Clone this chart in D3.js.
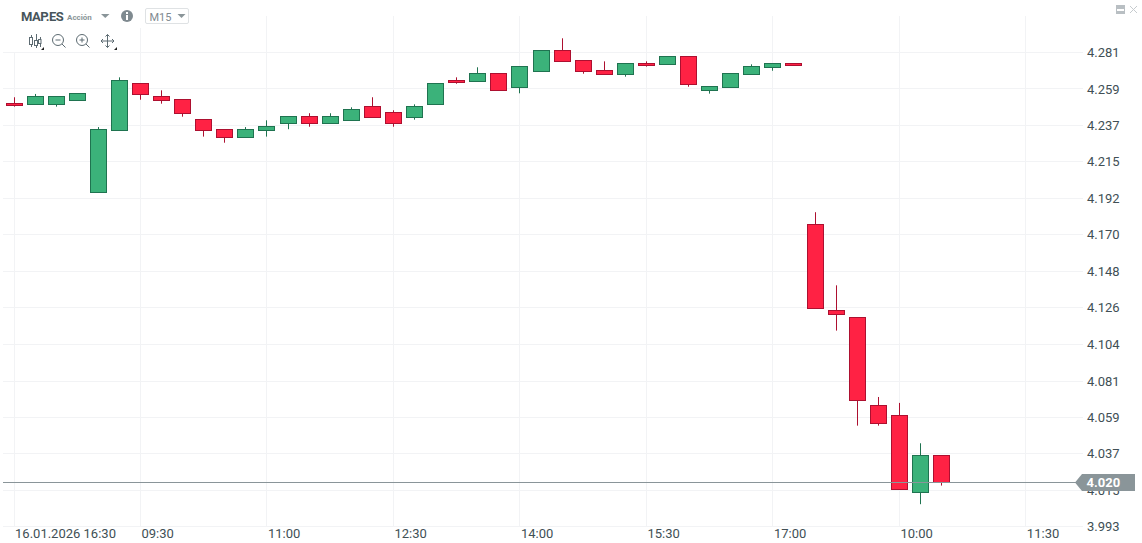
<!DOCTYPE html>
<html lang="es">
<head>
<meta charset="UTF-8">
<title>MAP.ES M15</title>
<script src="https://d3js.org/d3.v7.min.js"></script>
<style>
  html, body { margin: 0; padding: 0; background: #fff; overflow: hidden; }
  text { font-family: Roboto, sans-serif; }
</style>
</head>
<body>
<div id="chart"></div>
<script>
// candle values, one entry per 15 minute bar
var opens  = [4.2500,4.2494,4.2494,4.2516,4.1960,4.2336,4.2622,4.2543,4.2525,4.2403,4.2343,4.2294,4.2336,4.2379,4.2421,4.2379,4.2397,4.2482,4.2446,4.2413,4.2494,4.2640,4.2634,4.2683,4.2598,4.2695,4.2822,4.2761,4.2701,4.2676,4.2743,4.2737,4.2786,4.2579,4.2598,4.2676,4.2719,4.2743,4.1766,4.1244,4.1201,4.0667,4.0606,4.0139,4.0363];
var highs  = [4.2537,4.2557,4.2543,4.2561,4.2356,4.2658,4.2622,4.2579,4.2525,4.2403,4.2343,4.2356,4.2397,4.2421,4.2440,4.2440,4.2476,4.2537,4.2458,4.2494,4.2622,4.2658,4.2719,4.2683,4.2725,4.2822,4.2895,4.2761,4.2755,4.2743,4.2755,4.2786,4.2786,4.2604,4.2683,4.2737,4.2743,4.2743,4.1839,4.1395,4.1201,4.0717,4.0681,4.0436,4.0363];
var lows   = [4.2480,4.2494,4.2480,4.2516,4.1960,4.2336,4.2522,4.2498,4.2419,4.2298,4.2261,4.2294,4.2298,4.2343,4.2358,4.2379,4.2397,4.2413,4.2358,4.2401,4.2494,4.2619,4.2634,4.2579,4.2561,4.2695,4.2755,4.2680,4.2676,4.2662,4.2723,4.2737,4.2601,4.2559,4.2598,4.2676,4.2698,4.2731,4.1256,4.1120,4.0543,4.0543,4.0157,4.0066,4.0179];
var closes = [4.2488,4.2543,4.2543,4.2561,4.2343,4.2640,4.2555,4.2519,4.2440,4.2336,4.2294,4.2343,4.2361,4.2421,4.2379,4.2421,4.2464,4.2413,4.2379,4.2482,4.2622,4.2628,4.2683,4.2579,4.2725,4.2822,4.2755,4.2695,4.2676,4.2743,4.2731,4.2786,4.2616,4.2604,4.2683,4.2725,4.2743,4.2731,4.1256,4.1219,4.0697,4.0557,4.0157,4.0363,4.0200];

var priceTicks = [4.2810,4.2588,4.2367,4.2145,4.1924,4.1702,4.1480,4.1259,4.1037,4.0814,4.0594,4.0372,4.0151,3.9930];
var timeTickBars = [0,6,12,18,24,30,36,42,48];
var timeTickLabels = ["16.01.2026 16:30","09:30","11:00","12:30","14:00","15:30","17:00","10:00","11:30"];
var lastPrice = 4.020;

var width = 1142, height = 543;
var gridColor = "#f2f3f5", textColor = "#414f55", iconColor = "#5d6b72", tagColor = "#8a9599";
var upFill = "#3bb27a", upStroke = "#1f7350", downFill = "#ff2244", downStroke = "#ad1030";

var svg = d3.select("#chart").append("svg")
    .attr("width", width)
    .attr("height", height)
    .style("display", "block");

var x = d3.scaleLinear().domain([0, 48]).range([14.03, 1025.87]);
var y = d3.scaleLinear().domain([3.993, 4.281]).range([526.6, 52.3]);

function crisp(v) { return Math.floor(v) + 0.5; }

// grid
svg.append("g").selectAll("line").data(priceTicks).enter().append("line")
    .attr("x1", 3).attr("x2", 1083)
    .attr("y1", function(d) { return crisp(y(d)); })
    .attr("y2", function(d) { return crisp(y(d)); })
    .attr("stroke", gridColor);
svg.append("g").selectAll("line").data(timeTickBars).enter().append("line")
    .attr("x1", function(d) { return crisp(x(d)); })
    .attr("x2", function(d) { return crisp(x(d)); })
    .attr("y1", 16).attr("y2", 527)
    .attr("stroke", gridColor);

// white panels under the header and the toolbar
svg.append("rect").attr("x", 0).attr("y", 0).attr("width", 192).attr("height", 28).attr("fill", "#fff");
svg.append("rect").attr("x", 0).attr("y", 28).attr("width", 125).attr("height", 24).attr("fill", "#fff");

// axes
var yAxis = d3.axisRight(y).tickValues(priceTicks).tickSize(0).tickPadding(0).tickFormat(d3.format(".3f"));
var yG = svg.append("g").attr("transform", "translate(1087,0)").call(yAxis);
yG.select(".domain").remove();
yG.selectAll("text").attr("font-size", 13).attr("font-family", "Roboto, sans-serif").attr("fill", textColor);

var xAxis = d3.axisBottom(x).tickValues(timeTickBars).tickSize(0).tickPadding(0)
    .tickFormat(function(d, i) { return timeTickLabels[i]; });
var xG = svg.append("g").attr("transform", "translate(0,529)").call(xAxis);
xG.select(".domain").remove();
xG.selectAll("text").attr("font-size", 13).attr("font-family", "Roboto, sans-serif")
    .attr("fill", textColor).attr("text-anchor", "start").attr("dx", 0.5);

// candles
var candles = svg.append("g").selectAll("g").data(d3.range(opens.length)).enter().append("g");
function isUp(i) { return closes[i] > opens[i]; }
candles.append("line")
    .attr("x1", function(i) { return crisp(x(i)); })
    .attr("x2", function(i) { return crisp(x(i)); })
    .attr("y1", function(i) { return y(highs[i]); })
    .attr("y2", function(i) { return y(lows[i]); })
    .attr("stroke", function(i) { return isUp(i) ? upStroke : downStroke; });
candles.append("rect")
    .attr("x", function(i) { return crisp(x(i)) - 8; })
    .attr("width", 16)
    .attr("y", function(i) { return crisp(y(Math.max(opens[i], closes[i]))); })
    .attr("height", function(i) {
        return crisp(y(Math.min(opens[i], closes[i]))) - crisp(y(Math.max(opens[i], closes[i])));
    })
    .attr("fill", function(i) { return isUp(i) ? upFill : downFill; })
    .attr("stroke", function(i) { return isUp(i) ? upStroke : downStroke; });

// last price line and tag
var lastY = crisp(y(lastPrice));
svg.append("line").attr("x1", 3).attr("x2", 1076).attr("y1", lastY).attr("y2", lastY).attr("stroke", tagColor);
svg.append("path")
    .attr("d", "M1075," + lastY + "L1082," + (lastY - 8.5) + "H1135V" + (lastY + 8.5) + "H1082Z")
    .attr("fill", tagColor);
svg.append("text").attr("x", 1086.5).attr("y", lastY + 4.5)
    .attr("font-size", 13).attr("font-weight", 700).attr("fill", "#fff")
    .text(d3.format(".3f")(lastPrice));

// header
svg.append("text").attr("x", 21).attr("y", 21).attr("font-size", 13).attr("font-weight", 700)
    .attr("fill", "#47555b").attr("letter-spacing", -0.5).text("MAP.ES");
svg.append("text").attr("x", 67).attr("y", 20).attr("font-size", 8).attr("font-weight", 700)
    .attr("fill", "#8a9599").text("Acción");
svg.append("path").attr("d", "M101,14H109.5L105.25,18Z").attr("fill", "#8a9599");
svg.append("circle").attr("cx", 127).attr("cy", 16).attr("r", 6).attr("fill", "#7f8a90");
svg.append("rect").attr("x", 126).attr("y", 15).attr("width", 2).attr("height", 5).attr("fill", "#fff");
svg.append("rect").attr("x", 126).attr("y", 12).attr("width", 2).attr("height", 2).attr("fill", "#fff");
svg.append("rect").attr("x", 145.5).attr("y", 8.5).attr("width", 43).attr("height", 15)
    .attr("rx", 1.5).attr("fill", "#fff").attr("stroke", "#dfe2e4");
svg.append("text").attr("x", 149.5).attr("y", 20.5).attr("font-size", 11).attr("fill", "#7f8a90").text("M15");
svg.append("path").attr("d", "M177.5,14H185.5L181.5,18Z").attr("fill", "#8a9599");

// toolbar icons
var tools = svg.append("g").attr("fill", "none").attr("stroke", iconColor).attr("stroke-width", 1);
tools.append("path").attr("d", "M31.5,35V47M36.5,34V48M40.5,37V47");
tools.append("rect").attr("x", 29.5).attr("y", 37.5).attr("width", 3).attr("height", 7).attr("fill", "#fff");
tools.append("rect").attr("x", 34.5).attr("y", 40.5).attr("width", 3).attr("height", 5).attr("fill", "#fff");
tools.append("rect").attr("x", 38.5).attr("y", 39.5).attr("width", 2.5).attr("height", 4).attr("fill", "#fff");
tools.append("circle").attr("cx", 58).attr("cy", 40).attr("r", 5.5);
tools.append("path").attr("d", "M55.5,40H60.5M62,44L65.5,47.5");
tools.append("circle").attr("cx", 82).attr("cy", 40).attr("r", 5.5);
tools.append("path").attr("d", "M79.5,40H84.5M82,37.5V42.5M86,44L89.5,47.5");
tools.append("path").attr("d", "M101,41H114M107.5,34.5V47.5M103,39L101,41L103,43M112,39L114,41L112,43M105.5,36.5L107.5,34.5L109.5,36.5M105.5,45.5L107.5,47.5L109.5,45.5");
svg.append("path").attr("d", "M44,47V50H41Z").attr("fill", "#222");
svg.append("path").attr("d", "M117,47V50H114Z").attr("fill", "#222");

// window buttons
svg.append("rect").attr("x", 1116).attr("y", 5).attr("width", 9).attr("height", 9).attr("fill", "#b9bfc3");
svg.append("rect").attr("x", 1117).attr("y", 9).attr("width", 7).attr("height", 2).attr("fill", "#fff");
svg.append("path").attr("d", "M1130,6L1137,13M1137,6L1130,13").attr("stroke", "#c6cbce").attr("fill", "none");
</script>
</body>
</html>
